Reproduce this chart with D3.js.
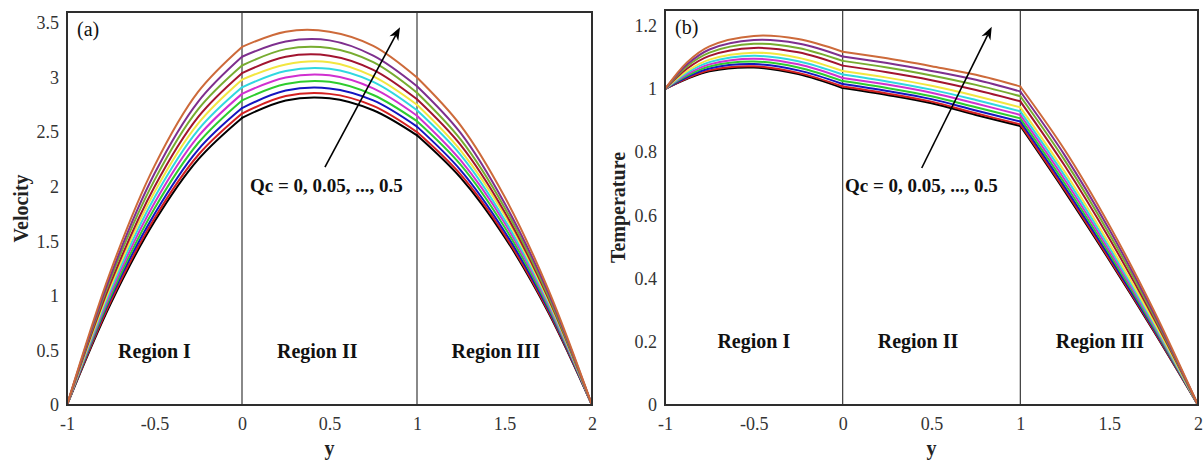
<!DOCTYPE html>
<html>
<head>
<meta charset="utf-8">
<script src="https://cdn.jsdelivr.net/npm/d3@7"></script>
<style>
  body { margin: 0; background: #fff; }
  svg text { font-family: "Liberation Serif", "Times New Roman", serif; }
</style>
</head>
<body>
<div id="chart"></div>
<script>
// ---- data ----
const xTicks = [-1, -0.5, 0, 0.5, 1, 1.5, 2];
const velTicks = [0, 0.5, 1, 1.5, 2, 2.5, 3, 3.5];
const tempTicks = [0, 0.2, 0.4, 0.6, 0.8, 1, 1.2];
const regionNames = ["Region I", "Region II", "Region III"];
const qcValues = [0, 0.05, 0.1, 0.15, 0.2, 0.25, 0.3, 0.35, 0.4, 0.45, 0.5];
const lineColors = ["#000000", "#d42020", "#1515c0", "#2ecc2e", "#d030d0", "#30d8e0",
                    "#f2e640", "#a2142f", "#77ac30", "#7e2f8e", "#cd6a3a"];

// velocity, sampled at these y
const velY = [-1, -0.75, -0.5, -0.25, 0, 0.25, 0.5, 0.75, 1, 1.25, 1.5, 1.75, 2];
const velQc00 = [0, 0.93, 1.68, 2.25, 2.63, 2.79, 2.81, 2.70, 2.47, 2.08, 1.54, 0.85, 0];
const velQc05 = [0, 0.95, 1.71, 2.29, 2.67, 2.83, 2.85, 2.74, 2.50, 2.11, 1.56, 0.86, 0];
const velQc10 = [0, 0.98, 1.75, 2.34, 2.72, 2.88, 2.90, 2.79, 2.55, 2.15, 1.59, 0.88, 0];
const velQc15 = [0, 1.00, 1.80, 2.40, 2.79, 2.94, 2.96, 2.84, 2.60, 2.20, 1.63, 0.90, 0];
const velQc20 = [0, 1.03, 1.85, 2.46, 2.85, 3.00, 3.02, 2.90, 2.65, 2.24, 1.67, 0.92, 0];
const velQc25 = [0, 1.06, 1.90, 2.52, 2.91, 3.06, 3.08, 2.96, 2.70, 2.29, 1.70, 0.94, 0];
const velQc30 = [0, 1.09, 1.95, 2.58, 2.98, 3.12, 3.14, 3.01, 2.75, 2.33, 1.74, 0.96, 0];
const velQc35 = [0, 1.12, 2.00, 2.64, 3.04, 3.19, 3.20, 3.07, 2.80, 2.38, 1.77, 0.98, 0];
const velQc40 = [0, 1.16, 2.06, 2.71, 3.11, 3.26, 3.27, 3.14, 2.86, 2.43, 1.81, 1.00, 0];
const velQc45 = [0, 1.19, 2.12, 2.78, 3.19, 3.33, 3.34, 3.20, 2.92, 2.49, 1.85, 1.03, 0];
const velQc50 = [0, 1.23, 2.19, 2.87, 3.28, 3.42, 3.42, 3.29, 3.00, 2.56, 1.91, 1.06, 0];

// temperature, sampled at these y
const tempY = [-1, -0.875, -0.75, -0.5, -0.25, 0, 0.25, 0.5, 0.75, 1, 1.25, 1.5, 1.75, 2];
const tempQc00 = [1, 1.032, 1.056, 1.068, 1.047, 1.003, 0.981, 0.955, 0.918, 0.883, 0.676, 0.459, 0.234, 0];
const tempQc05 = [1, 1.034, 1.059, 1.072, 1.051, 1.008, 0.986, 0.960, 0.923, 0.888, 0.681, 0.463, 0.237, 0];
const tempQc10 = [1, 1.038, 1.065, 1.079, 1.059, 1.016, 0.994, 0.968, 0.932, 0.897, 0.690, 0.471, 0.241, 0];
const tempQc15 = [1, 1.042, 1.071, 1.087, 1.068, 1.025, 1.003, 0.977, 0.942, 0.907, 0.701, 0.480, 0.247, 0];
const tempQc20 = [1, 1.047, 1.078, 1.096, 1.078, 1.035, 1.014, 0.988, 0.954, 0.918, 0.713, 0.490, 0.253, 0];
const tempQc25 = [1, 1.052, 1.085, 1.105, 1.088, 1.046, 1.024, 0.998, 0.965, 0.929, 0.725, 0.500, 0.259, 0];
const tempQc30 = [1, 1.057, 1.093, 1.115, 1.099, 1.057, 1.036, 1.010, 0.978, 0.942, 0.738, 0.511, 0.266, 0];
const tempQc35 = [1, 1.065, 1.105, 1.130, 1.116, 1.074, 1.053, 1.028, 0.997, 0.961, 0.757, 0.528, 0.276, 0];
const tempQc40 = [1, 1.072, 1.115, 1.143, 1.130, 1.089, 1.068, 1.043, 1.013, 0.977, 0.774, 0.542, 0.284, 0];
const tempQc45 = [1, 1.078, 1.125, 1.155, 1.144, 1.103, 1.082, 1.057, 1.029, 0.992, 0.790, 0.556, 0.292, 0];
const tempQc50 = [1, 1.085, 1.135, 1.168, 1.158, 1.118, 1.097, 1.072, 1.045, 1.008, 0.807, 0.570, 0.301, 0];

const velocity = [velQc00, velQc05, velQc10, velQc15, velQc20, velQc25,
                  velQc30, velQc35, velQc40, velQc45, velQc50];
const temperature = [tempQc00, tempQc05, tempQc10, tempQc15, tempQc20, tempQc25,
                     tempQc30, tempQc35, tempQc40, tempQc45, tempQc50];

// ---- drawing ----
let width = 1203;
let height = 463;

let svg = d3.select('#chart')
    .append('svg')
    .attr('width', width)
    .attr('height', height);

function drawPanel(p) {
  let x = d3.scaleLinear().domain([-1, 2]).range([p.left, p.right]);
  let y = d3.scaleLinear().domain([0, p.yMax]).range([p.bottom, p.top]);
  let g = svg.append('g');

  // region dividers
  [0, 1].forEach(b => {
    g.append('line')
      .attr('x1', x(b)).attr('x2', x(b))
      .attr('y1', p.top).attr('y2', p.bottom)
      .attr('stroke', '#3a3a3a').attr('stroke-width', 1.2);
  });

  // curves, one piece per region so the joins keep their kinks
  let line = d3.line()
    .x(d => x(d[0]))
    .y(d => y(d[1]))
    .curve(d3.curveCatmullRom.alpha(0.5));

  p.series.forEach((vals, i) => {
    let pts = p.ys.map((t, j) => [t, vals[j]]);
    [[-1, 0], [0, 1], [1, 2]].forEach(([a, b]) => {
      g.append('path')
        .datum(pts.filter(d => d[0] >= a && d[0] <= b))
        .attr('d', line)
        .attr('fill', 'none')
        .attr('stroke', lineColors[i])
        .attr('stroke-width', 2)
        .attr('stroke-linecap', 'round');
    });
  });

  // frame
  g.append('rect')
    .attr('x', p.left).attr('y', p.top)
    .attr('width', p.right - p.left).attr('height', p.bottom - p.top)
    .attr('fill', 'none').attr('stroke', '#2e2e2e').attr('stroke-width', 2);

  // axes
  let xAxis = g.append('g')
    .attr('transform', 'translate(0,' + p.bottom + ')')
    .call(d3.axisBottom(x).tickValues(xTicks).tickSize(0).tickPadding(12)
      .tickFormat(d => String(d)));
  let yAxis = g.append('g')
    .attr('transform', 'translate(' + p.left + ',0)')
    .call(d3.axisLeft(y).tickValues(p.ticks).tickSize(0).tickPadding(8)
      .tickFormat(d => String(d)));
  [xAxis, yAxis].forEach(a => {
    a.select('.domain').remove();
    a.selectAll('text')
      .attr('font-family', '"Liberation Serif", serif')
      .attr('font-size', 18)
      .attr('fill', '#333');
  });

  // axis titles
  g.append('text')
    .attr('x', (p.left + p.right) / 2).attr('y', 455)
    .attr('text-anchor', 'middle')
    .attr('font-size', 20).attr('font-weight', 'bold').attr('fill', '#222')
    .text('y');
  g.append('text')
    .attr('transform', 'translate(' + p.titleX + ',' + (p.top + p.bottom) / 2 + ') rotate(-90)')
    .attr('text-anchor', 'middle')
    .attr('font-size', 20).attr('font-weight', 'bold').attr('fill', '#222')
    .text(p.title);

  // panel tag
  g.append('text')
    .attr('x', p.left + 10).attr('y', p.top + 24)
    .attr('font-size', 20).attr('fill', '#111')
    .text(p.tag);

  // region labels
  regionNames.forEach((name, i) => {
    g.append('text')
      .attr('x', x(p.regionX[i])).attr('y', p.regionBase)
      .attr('text-anchor', 'middle')
      .attr('font-size', 20).attr('font-weight', 'bold').attr('fill', '#111')
      .text(name);
  });

  // arrow + Qc annotation
  let x0 = x(p.arrow[0]), y0 = y(p.arrow[1]);
  let x1 = x(p.arrow[2]), y1 = y(p.arrow[3]);
  let ang = Math.atan2(y1 - y0, x1 - x0);
  let len = 13, half = 5, back = 9;
  let ux = Math.cos(ang), uy = Math.sin(ang);
  g.append('line')
    .attr('x1', x0).attr('y1', y0)
    .attr('x2', x1 - ux * back).attr('y2', y1 - uy * back)
    .attr('stroke', '#000').attr('stroke-width', 1.6);
  let head = [
    [x1, y1],
    [x1 - ux * len - uy * half, y1 - uy * len + ux * half],
    [x1 - ux * back, y1 - uy * back],
    [x1 - ux * len + uy * half, y1 - uy * len - ux * half]
  ];
  g.append('path')
    .attr('d', 'M' + head.map(d => d.join(',')).join('L') + 'Z')
    .attr('fill', '#000');

  g.append('text')
    .attr('x', x(p.qcPos[0])).attr('y', y(p.qcPos[1]))
    .attr('font-size', 19).attr('font-weight', 'bold').attr('fill', '#111')
    .text('Qc = 0, 0.05, ..., 0.5');
}

drawPanel({
  left: 67, right: 592, top: 12, bottom: 405, yMax: 3.6,
  ys: velY, series: velocity, ticks: velTicks,
  title: 'Velocity', titleX: 28, tag: '(a)',
  regionX: [-0.5, 0.43, 1.45], regionBase: 358,
  arrow: [0.474, 2.18, 0.903, 3.46],
  qcPos: [0.046, 1.95]
});

drawPanel({
  left: 665, right: 1198, top: 10, bottom: 405, yMax: 1.25,
  ys: tempY, series: temperature, ticks: tempTicks,
  title: 'Temperature', titleX: 625, tag: '(b)',
  regionX: [-0.5, 0.424, 1.448], regionBase: 348,
  arrow: [0.445, 0.75, 0.839, 1.197],
  qcPos: [0.013, 0.674]
});
</script>
</body>
</html>
